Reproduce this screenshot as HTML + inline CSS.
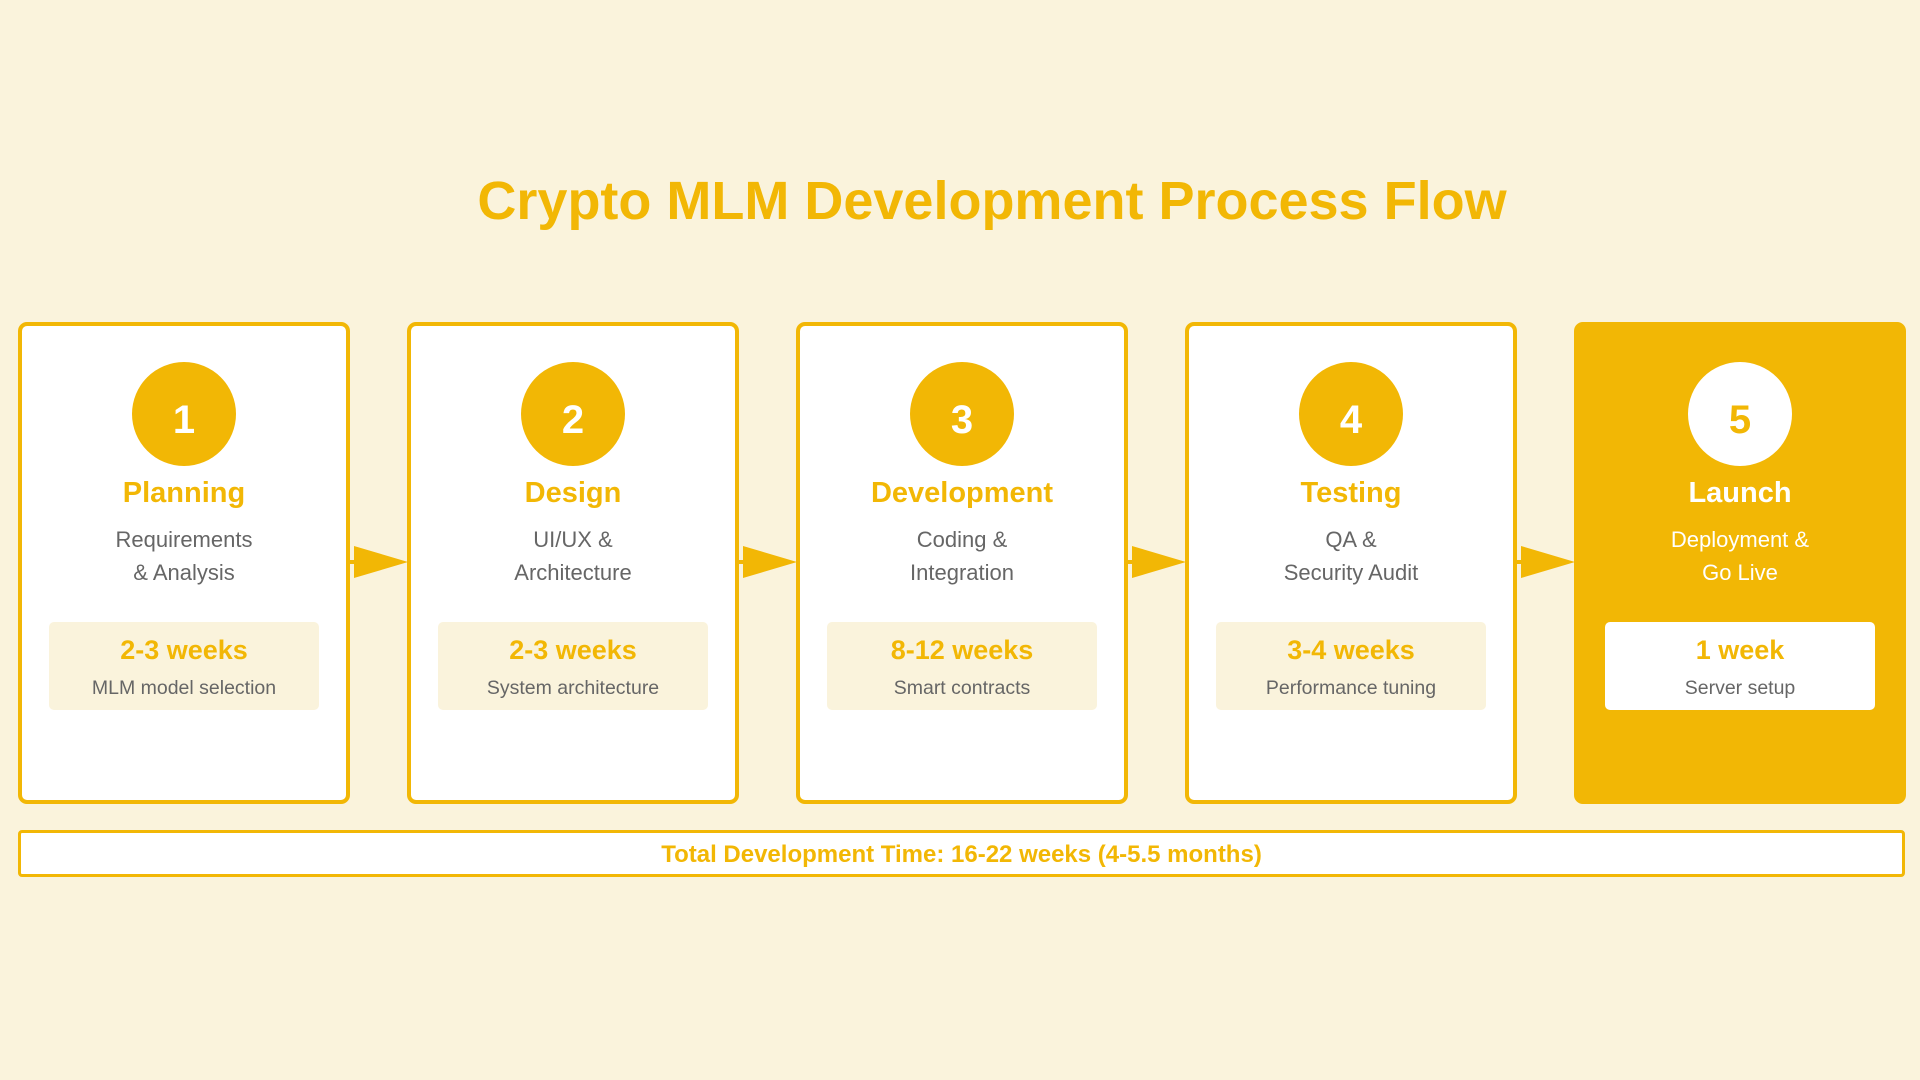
<!DOCTYPE html>
<html><head><meta charset="utf-8"><style>
body{margin:0;width:1920px;height:1080px;background:#faf3dc;font-family:"Liberation Sans",sans-serif;position:relative;overflow:hidden}
.t{position:absolute;left:32px;width:1920px;text-align:center;top:170px;font-size:54px;font-weight:bold;color:#f2b705}
.card{position:absolute;top:322px;width:324px;height:474px;border:4px solid #f2b705;border-radius:9px;background:#fff;text-align:center}
.circ{position:absolute;left:110px;top:36px;width:104px;height:104px;border-radius:50%;background:#f2b705;color:#fff;font-size:40px;font-weight:bold;line-height:116px}
.nm{position:absolute;left:0;width:100%;top:151px;font-size:29px;font-weight:bold;color:#f2b705}
.ds{position:absolute;left:0;width:100%;top:197px;font-size:22px;line-height:33px;color:#666}
.dur{position:absolute;left:27px;top:296px;width:270px;height:88px;background:#faf3dc;border-radius:5px}
.dur b{display:block;margin-top:13px;font-size:27px;color:#f2b705}
.dur span{display:block;margin-top:11px;font-size:19.5px;color:#666}
.last{background:#f2b705}
.last .circ{background:#fff;color:#f2b705}
.last .nm,.last .ds{color:#fff}
.last .dur{background:#fff}
.tot{position:absolute;left:18px;top:830px;width:1881px;height:41px;border:3px solid #f2b705;border-radius:4px;background:#fff;text-align:center;line-height:44px;font-size:24px;font-weight:bold;color:#f2b705}
</style></head><body>
<div class="t">Crypto MLM Development Process Flow</div>
<div class="card" style="left:18px"><div class="circ">1</div><div class="nm">Planning</div><div class="ds">Requirements<br>&amp; Analysis</div><div class="dur"><b>2-3 weeks</b><span>MLM model selection</span></div></div>
<div class="card" style="left:407px"><div class="circ">2</div><div class="nm">Design</div><div class="ds">UI/UX &amp;<br>Architecture</div><div class="dur"><b>2-3 weeks</b><span>System architecture</span></div></div>
<div class="card" style="left:796px"><div class="circ">3</div><div class="nm">Development</div><div class="ds">Coding &amp;<br>Integration</div><div class="dur"><b>8-12 weeks</b><span>Smart contracts</span></div></div>
<div class="card" style="left:1185px"><div class="circ">4</div><div class="nm">Testing</div><div class="ds">QA &amp;<br>Security Audit</div><div class="dur"><b>3-4 weeks</b><span>Performance tuning</span></div></div>
<div class="card last" style="left:1574px"><div class="circ">5</div><div class="nm">Launch</div><div class="ds">Deployment &amp;<br>Go Live</div><div class="dur"><b>1 week</b><span>Server setup</span></div></div>
<svg width="1920" height="1080" style="position:absolute;left:0;top:0">
<g fill="#f2b705" stroke="#f2b705" stroke-width="4">
<line x1="350" y1="562" x2="360" y2="562"/><polygon points="354,546 408,562 354,578" stroke="none"/>
<line x1="739" y1="562" x2="749" y2="562"/><polygon points="743,546 797,562 743,578" stroke="none"/>
<line x1="1128" y1="562" x2="1138" y2="562"/><polygon points="1132,546 1186,562 1132,578" stroke="none"/>
<line x1="1517" y1="562" x2="1527" y2="562"/><polygon points="1521,546 1575,562 1521,578" stroke="none"/>
</g></svg>
<div class="tot">Total Development Time: 16-22 weeks (4-5.5 months)</div>
</body></html>
